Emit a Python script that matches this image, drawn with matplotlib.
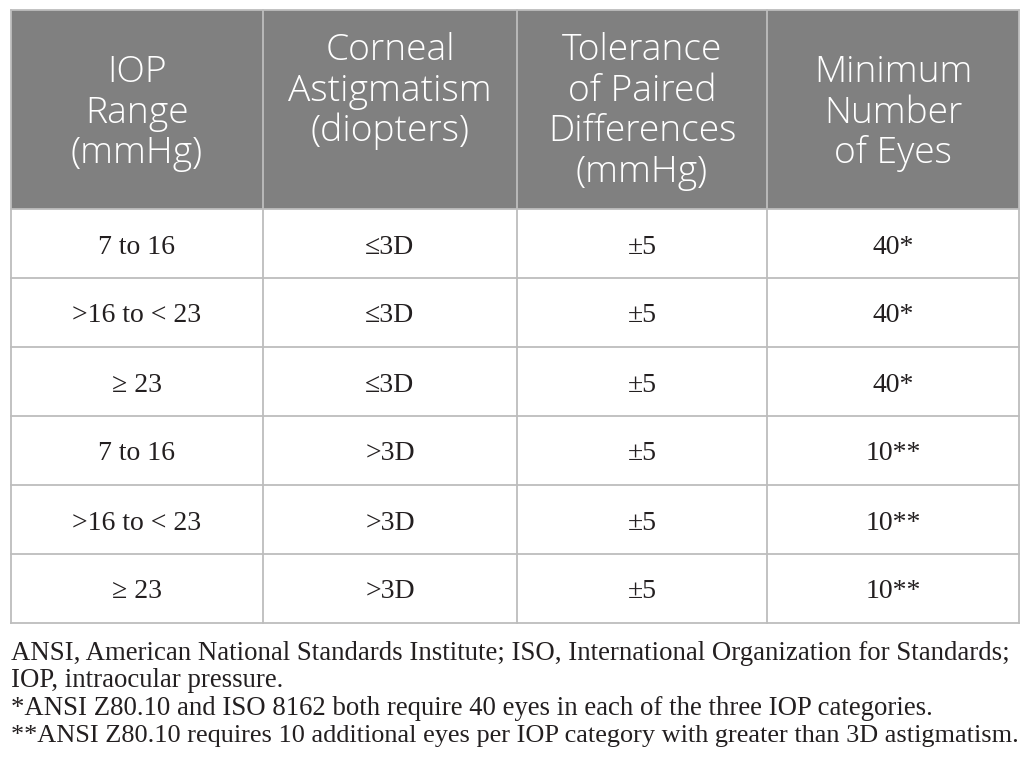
import matplotlib
matplotlib.use("Agg")
import matplotlib.pyplot as plt
from matplotlib.patches import Rectangle

headers = [["IOP", "Range", "(mmHg)"],
           ["Corneal", "Astigmatism", "(diopters)"],
           ["Tolerance", "of Paired", "Differences", "(mmHg)"],
           ["Minimum", "Number", "of Eyes"]]
iop_range = ["7 to 16", ">16 to < 23", "≥ 23", "7 to 16", ">16 to < 23", "≥ 23"]
astigmatism = ["≤3D", "≤3D", "≤3D", ">3D", ">3D", ">3D"]
tolerance = ["±5", "±5", "±5", "±5", "±5", "±5"]
min_eyes = ["40*", "40*", "40*", "10**", "10**", "10**"]
footnotes = [
    "ANSI, American National Standards Institute; ISO, International Organization for Standards;",
    "IOP, intraocular pressure.",
    "*ANSI Z80.10 and ISO 8162 both require 40 eyes in each of the three IOP categories.",
    "**ANSI Z80.10 requires 10 additional eyes per IOP category with greater than 3D astigmatism.",
]

W, H = 1026, 783
fig = plt.figure(figsize=(W / 100, H / 100), dpi=100)
ax = fig.add_axes([0, 0, 1, 1])
ax.set_xlim(0, W)
ax.set_ylim(H, 0)
ax.axis("off")

col_x = [11, 263, 517, 767, 1019]
top, head_bot = 10, 209
row_h = 69
n_rows = len(iop_range)
bottom = head_bot + n_rows * row_h
line_c = "#bdbdbd"

ax.add_patch(Rectangle((col_x[0], top), col_x[-1] - col_x[0], head_bot - top,
                       facecolor="#808080", edgecolor="none"))
for x in col_x:
    ax.plot([x, x], [top, bottom], color=line_c, lw=1.3)
for i in range(n_rows + 1):
    y = head_bot + i * row_h
    ax.plot([col_x[0], col_x[-1]], [y, y], color=line_c, lw=1.3)
ax.plot([col_x[0], col_x[-1]], [top, top], color=line_c, lw=1.3)

first_base = [82, 60, 60, 82]
lead = 40.7
for j, lines in enumerate(headers):
    cx = (col_x[j] + col_x[j + 1]) / 2
    for k, ln in enumerate(lines):
        ax.text(cx, first_base[j] + k * lead, ln, ha="center", va="baseline",
                color="white", fontsize=26.8, family="Open Sans", fontweight="light")

cols = [iop_range, astigmatism, tolerance, min_eyes]
for j, col in enumerate(cols):
    cx = (col_x[j] + col_x[j + 1]) / 2
    for i, v in enumerate(col):
        cy = head_bot + (i + 0.5) * row_h
        ax.text(cx, cy + 10, v, ha="center", va="baseline", color="#231f20",
                fontsize=20, family="Liberation Serif")

fy = [660, 687, 715, 742]
max_w = col_x[-1] - col_x[0] - 2
fig.canvas.draw()
renderer = fig.canvas.get_renderer()
for y, t in zip(fy, footnotes):
    txt = ax.text(11, y, t, ha="left", va="baseline", color="#231f20",
                  fontsize=19.3, family="Liberation Serif")
    w = txt.get_window_extent(renderer).width
    if w > max_w:
        txt.set_fontsize(19.3 * max_w / w)

fig.savefig("out.png", dpi=100)
